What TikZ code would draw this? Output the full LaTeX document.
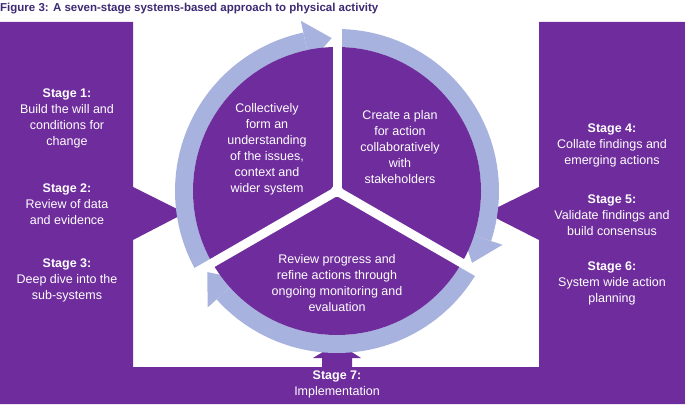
\documentclass[tikz,border=0pt]{standalone}
\usepackage{fontspec}
\setmainfont{Liberation Sans}
\begin{document}
\begin{tikzpicture}[x=1pt,y=1pt,
  txt/.style={text=white,align=center,font=\fontsize{12.5}{16}\selectfont,inner sep=0pt},
  ring/.style={fill=ringc}]
\definecolor{purp}{HTML}{6E2C9C}
\definecolor{ringc}{HTML}{A7B3DE}
\definecolor{titlec}{HTML}{3C2A73}
\useasboundingbox (0,0) rectangle (685,407);
% frame panels
\fill[purp] (0,3)--(685,3)--(685,385)--(539,385)--(539,40)--(133,40)--(133,385)--(0,385)--cycle;
\fill[purp] (133,220)--(185,194)--(133,167)--cycle;
\fill[purp] (539,220)--(486,194)--(539,167)--cycle;
\fill[purp] (322,40)--(322,49)--(313,49)--(337.5,64)--(361,49)--(352,49)--(352,40)--cycle;
\node[anchor=west,font=\bfseries\fontsize{11.5}{13}\selectfont,text=titlec,inner sep=0pt] (title) at (0,398) {Figure 3: A seven-stage systems-based approach to physical activity};
% ring
\coordinate (c) at (337,216);
\foreach \s/\e in {210/90, 90/-30, -30/-150}{
  \fill[ringc] ([shift={(\s:162)}]c) arc[start angle=\s, end angle=\e+12, radius=162]
     -- ([shift={(\e+12:144)}]c) arc[start angle=\e+12, end angle=\s, radius=144] -- cycle;
  \fill[ringc] ([shift={(\e+12:131)}]c) -- ([shift={(\e+12:174)}]c) -- ([shift={(\e+2:153)}]c) -- cycle;
}
\fill[purp] (c) circle[radius=144];
\foreach \a in {90,-30,210}{\draw[white,line width=9] (c) -- ([shift={(\a:178)}]c);}
\fill[white] (c) circle[radius=6];
% texts
\node[txt] (t1) at (267,258) {Collectively\\form an\\understanding\\of the issues,\\context and\\wider system};
\node[txt] (t2) at (400,260) {Create a plan\\for action\\collaboratively\\with\\stakeholders};
\node[txt] (t3) at (337,124) {Review progress and\\refine actions through\\ongoing monitoring and\\evaluation};
\node[txt] (s1) at (67,289) {\textbf{Stage 1:}\\Build the will and\\conditions for\\change};
\node[txt] (s2) at (67,203) {\textbf{Stage 2:}\\Review of data\\and evidence};
\node[txt] (s3) at (67,127) {\textbf{Stage 3:}\\Deep dive into the\\sub-systems};
\node[txt] (s4) at (612,262) {\textbf{Stage 4:}\\Collate findings and\\emerging actions};
\node[txt] (s5) at (612,192) {\textbf{Stage 5:}\\Validate findings and\\build consensus};
\node[txt] (s6) at (612,124) {\textbf{Stage 6:}\\System wide action\\planning};
\node[txt] (s7) at (337,23) {\textbf{Stage 7:}\\Implementation};
\end{tikzpicture}
\end{document}
